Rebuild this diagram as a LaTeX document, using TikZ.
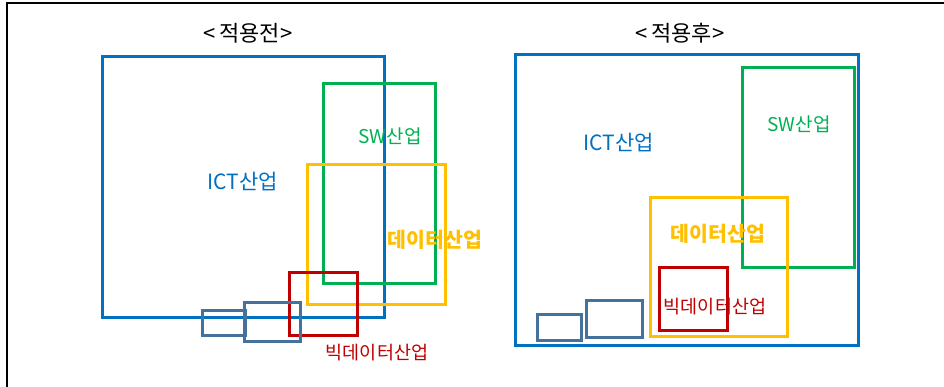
\documentclass[tikz,border=0pt]{standalone}
\usepackage{fontspec}
\setmainfont{Noto Sans CJK KR}

\definecolor{ictblue}{HTML}{0070C0}
\definecolor{swgreen}{HTML}{00B050}
\definecolor{datayellow}{HTML}{FFC000}
\definecolor{bigred}{HTML}{C00000}
\definecolor{steel}{HTML}{44729D}

\begin{document}
\begin{tikzpicture}[x=1pt,y=-1pt,
  box/.style={line width=3pt},
  lbl/.style={inner sep=0pt,font=\fontsize{19}{21}\selectfont},
  ttl/.style={inner sep=0pt,font=\fontsize{22}{24}\selectfont}]

  \useasboundingbox (0,0) rectangle (944,387);

  % frame along top and left
  \draw[line width=2pt] (7,387) -- (7,3) -- (944,3);

  % titles
  \node[ttl] (before) at (248,33) {<\,적용전>};
  \node[ttl] (after) at (680,33) {<\,적용후>};

  % before
  \draw[box,ictblue] (102,57) rectangle (384,317);
  \draw[box,swgreen] (323,84) rectangle (435,283);
  \draw[box,datayellow] (307,165) rectangle (445,304);
  \draw[box,bigred] (289,272) rectangle (357,335);
  \draw[box,steel] (202,310) rectangle (245,335);
  \draw[box,steel] (244,302) rectangle (300,341);

  \node[lbl,text=ictblue,font=\fontsize{21}{23}\selectfont] (ictA) at (243,182) {ICT산업};
  \node[lbl,text=swgreen] (swA) at (390,136) {SW산업};
  \node[lbl,text=datayellow,font=\fontsize{20.5}{22}\selectfont\bfseries] (dataA) at (435,240) {데이터산업};
  \node[lbl,text=bigred,font=\fontsize{18.5}{20}\selectfont] (bigA) at (377,353) {빅데이터산업};

  % after
  \draw[box,ictblue] (515,55) rectangle (858,345);
  \draw[box,swgreen] (742,68) rectangle (854,267);
  \draw[box,datayellow] (650,198) rectangle (787,336);
  \draw[box,bigred] (659,267) rectangle (727,330);
  \draw[box,steel] (537,314) rectangle (581,340);
  \draw[box,steel] (586,300) rectangle (642,337);

  \node[lbl,text=ictblue,font=\fontsize{21}{23}\selectfont] (ictB) at (619,143) {ICT산업};
  \node[lbl,text=swgreen] (swB) at (799,124) {SW산업};
  \node[lbl,text=datayellow,font=\fontsize{20.5}{22}\selectfont\bfseries] (dataB) at (718,234) {데이터산업};
  \node[lbl,text=bigred,font=\fontsize{18.5}{20}\selectfont] (bigB) at (715,307) {빅데이터산업};

\end{tikzpicture}
\end{document}
